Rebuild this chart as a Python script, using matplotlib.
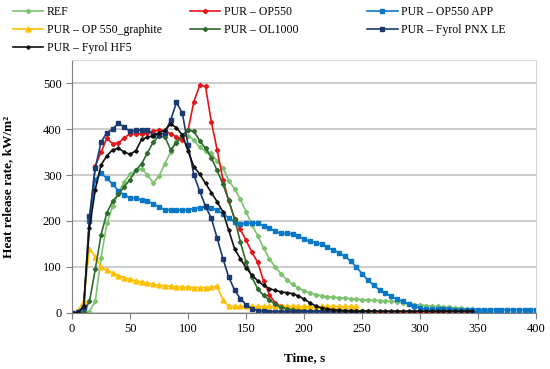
import numpy as np
import matplotlib.pyplot as plt

plt.rcParams['font.family'] = ['Liberation Serif', 'DejaVu Serif']

# series values, sampled every 5 s starting at t = 0
ref = [0, 0, 0, 3, 25, 120, 195, 232, 262, 285, 302, 310, 314, 300, 283, 298, 325, 350, 375, 385,
       386, 376, 360, 352, 348, 330, 316, 288, 270, 248, 220, 192, 168, 142, 118, 100, 85, 72, 62, 54,
       48, 44, 40, 37, 35, 34, 33, 32, 31, 30, 29, 28, 28, 27, 26, 25, 24, 22, 20, 18,
       17, 16, 15, 14, 13, 12, 11, 10, 9, 8, 7]
op550 = [0, 0, 8, 200, 320, 350, 380, 368, 370, 381, 390, 390, 390, 392, 395, 398, 396, 390, 383, 376,
         398, 460, 495, 493, 416, 355, 290, 244, 205, 182, 158, 132, 110, 70, 40, 22, 14, 9, 7, 6,
         5, 5, 4, 4, 4, 3, 4, 4, 3, 3, 4, 3, 3, 2, 3, 3, 2, 2, 3, 2,
         2, 3, 2, 2, 2, 3, 2, 2, 2, 2, 2, 2, 2]
op550_app = [0, 0, 10, 200, 290, 304, 293, 280, 266, 256, 251, 249, 246, 243, 238, 230, 225, 224, 224, 224,
             225, 227, 229, 231, 229, 224, 216, 207, 198, 193, 195, 196, 195, 190, 184, 178, 173, 173, 172, 167,
             160, 156, 153, 149, 143, 137, 131, 123, 113, 100, 85, 71, 60, 50, 43, 36, 30, 25, 20, 15,
             10, 8, 8, 8, 8, 8, 7, 7, 7, 7, 7, 7, 7, 7, 7, 7, 7, 7, 7, 7, 7]
graphite = [0, 5, 25, 140, 122, 100, 93, 87, 81, 77, 73, 70, 67, 65, 62, 60, 59, 58, 57, 57,
            56, 55, 55, 55, 56, 58, 28, 14, 14, 14, 14, 14, 14, 14, 14, 14, 14, 14, 14, 14,
            14, 14, 14, 14, 14, 14, 14, 14, 14, 14]
ol1000 = [0, 0, 2, 25, 95, 170, 218, 243, 258, 275, 290, 310, 325, 348, 372, 385, 383, 355, 370, 387,
          398, 395, 375, 358, 338, 310, 280, 245, 205, 155, 110, 78, 52, 38, 28, 19, 12, 9, 7, 5,
          5, 4, 4, 4, 4, 4, 4, 4, 4, 4, 4, 4, 4]
pnx_le = [0, 2, 12, 210, 315, 372, 392, 400, 413, 404, 395, 397, 398, 398, 388, 387, 392, 420, 458, 435,
          365, 300, 265, 232, 206, 163, 118, 78, 50, 31, 18, 9, 5, 4, 3, 3, 3, 3, 3, 3,
          3, 3, 3, 3, 3, 3, 3, 3, 3, 3, 3]
hf5 = [0, 0, 15, 185, 268, 322, 342, 355, 358, 350, 345, 353, 378, 382, 386, 392, 398, 411, 403, 387,
       352, 318, 302, 282, 262, 242, 220, 180, 140, 118, 98, 82, 70, 60, 53, 49, 46, 44, 42, 37,
       30, 22, 15, 11, 9, 7, 6, 5, 5, 4, 4, 4, 4, 4, 4, 4, 4, 4, 4, 4,
       4, 4, 4, 4, 4, 4, 4, 4, 4, 4]

series = [
    ("REF", ref, "#7DC36F", "D", 2.2),
    ("PUR – OP550", op550, "#E3151B", "D", 2.2),
    ("PUR – OP550 APP", op550_app, "#0A78C8", "s", 2.6),
    ("PUR – OP 550_graphite", graphite, "#FFC000", "^", 3.5),
    ("PUR – OL1000", ol1000, "#2F6A2E", "D", 2.2),
    ("PUR – Fyrol PNX LE", pnx_le, "#1B3A72", "s", 2.6),
    ("PUR – Fyrol HF5", hf5, "#111111", "D", 1.8),
]

fig = plt.figure(figsize=(5.5, 3.69), dpi=100)
ax = fig.add_axes([0.131, 0.152, 0.844, 0.685])

handles = {}
for name, vals, col, mk, ms in series:
    t = np.arange(len(vals)) * 5
    h, = ax.plot(t, vals, color=col, lw=1.2, marker=mk, ms=ms, label=name)
    handles[name] = h

ax.set_xlim(0, 400)
ax.set_ylim(0, 550)
ax.set_xticks(np.arange(0, 401, 50))
ax.set_yticks(np.arange(0, 501, 100))
ax.yaxis.grid(True, color="#BFBFBF", lw=1.1)
ax.set_axisbelow(True)
for s in ["top", "right"]:
    ax.spines[s].set_color("#D9D9D9")
for s in ["left", "bottom"]:
    ax.spines[s].set_color("#808080")
ax.tick_params(labelsize=9, length=4, color="#808080")
ax.set_xlabel("Time, s", fontsize=9.5, fontweight="bold")
ax.set_ylabel("Heat release rate, kW/m²", fontsize=9.5, fontweight="bold")
ax.yaxis.set_label_coords(-0.125, 0.5)
ax.xaxis.set_label_coords(0.5, -0.155)

# legend in three fixed columns, filled row by row
cols = [["REF", "PUR – OP 550_graphite", "PUR – Fyrol HF5"],
        ["PUR – OP550", "PUR – OL1000"],
        ["PUR – OP550 APP", "PUR – Fyrol PNX LE"]]
for i, names in enumerate(cols):
    fig.legend([handles[n] for n in names], names, loc="upper left",
               bbox_to_anchor=(0.008 + i * 0.322, 1.005), frameon=False,
               fontsize=8.5, handlelength=2.6, handletextpad=0.3, labelspacing=0.48,
               borderaxespad=0.3)

fig.savefig("out.png", dpi=100)
